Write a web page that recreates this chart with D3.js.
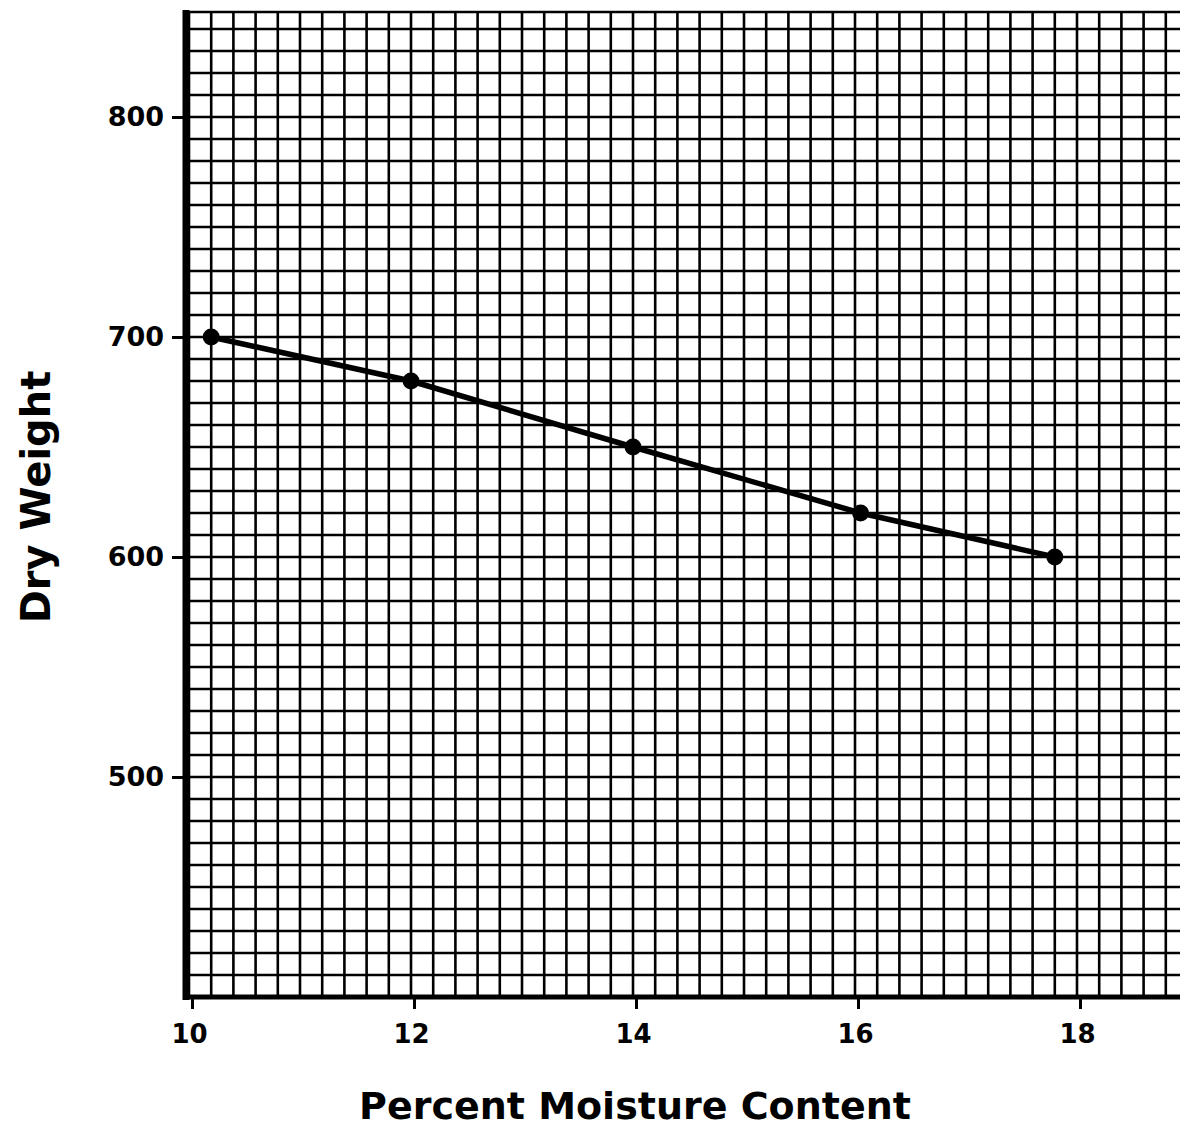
<!DOCTYPE html>
<html>
<head>
<meta charset="utf-8">
<script src="https://cdn.jsdelivr.net/npm/d3@7"></script>
<style>
  body { margin: 0; background: #fff; }
  svg { display: block; }
  text { font-family: 'DejaVu Sans', sans-serif; font-weight: bold; fill: #000; }
</style>
</head>
<body>
<svg id="chart" width="1180" height="1131"></svg>
<script>
// data
const moisture = [10.2, 12, 14, 16.05, 17.8]
const dryWeight = [700, 680, 650, 620, 600]
const xTicks = [10, 12, 14, 16, 18]
const yTicks = [500, 600, 700, 800]

const svg = d3.select('#chart')
const W = 1180

const xScale = d3.scaleLinear().domain([10, 18]).range([189, 1077])
const yScale = d3.scaleLinear().domain([400, 800]).range([997, 117])

const xMax = xScale.invert(W)
const yTop = yScale.invert(12)

// graph paper grid
const grid = svg.append('g').attr('stroke', '#000').attr('stroke-width', 2.6)
grid.selectAll('.vline')
  .data(d3.range(0, Math.floor((xMax - 10) / 0.2) + 1).map(i => 10 + i * 0.2))
  .join('line')
  .attr('class', 'vline')
  .attr('x1', d => xScale(d)).attr('x2', d => xScale(d))
  .attr('y1', yScale(yTop)).attr('y2', yScale(400))
grid.selectAll('.hline')
  .data(d3.range(400, yTop, 10))
  .join('line')
  .attr('class', 'hline')
  .attr('x1', xScale(10)).attr('x2', W)
  .attr('y1', d => yScale(d)).attr('y2', d => yScale(d))
// top border
grid.append('line')
  .attr('x1', xScale(10)).attr('x2', W)
  .attr('y1', yScale(yTop)).attr('y2', yScale(yTop))

// axes
const xAxis = d3.axisBottom(xScale).tickValues(xTicks).tickSize(12).tickPadding(8).tickFormat(d => d)
const yAxis = d3.axisLeft(yScale).tickValues(yTicks).tickSize(14).tickPadding(8).tickFormat(d => d)

const gx = svg.append('g').attr('transform', `translate(0,${yScale(400)})`).call(xAxis)
gx.select('.domain').remove()
gx.selectAll('.tick line').attr('stroke', '#000').attr('stroke-width', 3).attr('transform', 'translate(3,0)')
gx.selectAll('.tick text').style('font-size', '26px').attr('dy', '1em')

const gy = svg.append('g').attr('transform', `translate(${xScale(10) - 3},0)`).call(yAxis)
gy.select('.domain').remove()
gy.selectAll('.tick line').attr('stroke', '#000').attr('stroke-width', 3)
gy.selectAll('.tick text').style('font-size', '27px')

// thick axis lines
svg.append('line')
  .attr('x1', xScale(10) - 3).attr('x2', xScale(10) - 3)
  .attr('y1', yScale(yTop) - 2).attr('y2', yScale(400) + 3)
  .attr('stroke', '#000').attr('stroke-width', 7)
svg.append('line')
  .attr('x1', xScale(10) - 6).attr('x2', W)
  .attr('y1', yScale(400)).attr('y2', yScale(400))
  .attr('stroke', '#000').attr('stroke-width', 5)

// data line and points
const pts = moisture.map((m, i) => [m, dryWeight[i]])
const myLine = d3.line().x(d => xScale(d[0])).y(d => yScale(d[1]))
svg.append('path')
  .datum(pts)
  .attr('d', myLine)
  .attr('fill', 'none')
  .attr('stroke', '#000')
  .attr('stroke-width', 5.5)
svg.selectAll('.pt')
  .data(pts)
  .join('circle')
  .attr('class', 'pt')
  .attr('cx', d => xScale(d[0]))
  .attr('cy', d => yScale(d[1]))
  .attr('r', 8.5)
  .attr('fill', '#000')

// axis titles
svg.append('text')
  .attr('x', 635).attr('y', 1119)
  .attr('text-anchor', 'middle')
  .style('font-size', '38px')
  .text('Percent Moisture Content')
svg.append('text')
  .attr('transform', 'translate(50,497) rotate(-90)')
  .attr('text-anchor', 'middle')
  .style('font-size', '40px')
  .text('Dry Weight')
</script>
</body>
</html>
